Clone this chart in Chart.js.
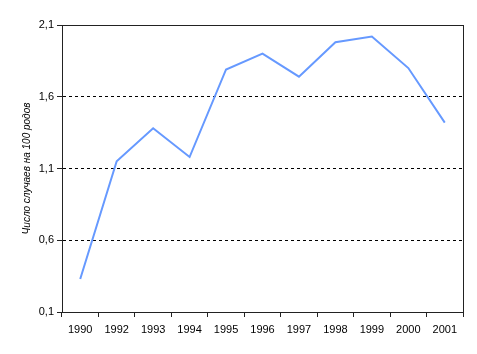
<!DOCTYPE html>
<html>
<head>
<meta charset="utf-8">
<script src="https://cdn.jsdelivr.net/npm/chart.js@4/dist/chart.umd.min.js"></script>
<style>
  html, body { margin: 0; padding: 0; background: #fff; }
  #wrap { width: 477px; height: 354px; }
</style>
</head>
<body>
<div id="wrap"><canvas id="chart" width="477" height="354"></canvas></div>
<script>
// DATA
const years = ["1990", "1992", "1993", "1994", "1995", "1996", "1997", "1998", "1999", "2000", "2001"];
const cases = [0.33, 1.15, 1.38, 1.18, 1.79, 1.90, 1.74, 1.98, 2.02, 1.80, 1.42];
const yTicks = [0.1, 0.6, 1.1, 1.6, 2.1];

// frame round the plot area
const frame = {
    id: "frame",
    afterDraw(chart) {
        let a = chart.chartArea;
        let ctx = chart.ctx;
        ctx.save();
        ctx.setLineDash([]);
        ctx.strokeStyle = "#222";
        ctx.lineWidth = 1;
        ctx.strokeRect(Math.round(a.left) + 0.5, Math.round(a.top) + 0.5,
            Math.round(a.right - a.left), Math.round(a.bottom - a.top));
        ctx.restore();
    }
};

new Chart(document.getElementById("chart"), {
    type: "line",
    data: {
        labels: years,
        datasets: [{
            data: cases,
            borderColor: "#6699ff",
            borderWidth: 2,
            pointRadius: 0,
            tension: 0,
            fill: false
        }]
    },
    options: {
        responsive: false,
        animation: false,
        layout: { padding: { left: 0, top: 25, right: 14, bottom: 0 } },
        plugins: { legend: { display: false }, tooltip: { enabled: false } },
        scales: {
            x: {
                offset: true,
                afterFit: s => { s.height = 42; },
                grid: { offset: true, drawOnChartArea: false, tickLength: 5, tickColor: "#222" },
                border: { color: "#222" },
                ticks: { color: "#000", font: { family: "Liberation Sans", size: 11 }, padding: 6, maxRotation: 0, autoSkip: false }
            },
            y: {
                min: 0.1,
                max: 2.1,
                afterFit: s => { s.width = 62; },
                afterBuildTicks: s => { s.ticks = yTicks.map(v => ({ value: v })); },
                grid: { color: "#000", tickLength: 5, tickColor: "#222", tickBorderDash: [] },
                border: { color: "#222", dash: [3, 3] },
                title: {
                    display: true,
                    text: "Число случаев на 100 родов",
                    color: "#000",
                    font: { family: "Liberation Sans", size: 10, style: "italic" },
                    padding: { top: 21, bottom: 0 }
                },
                ticks: {
                    color: "#000",
                    font: { family: "Liberation Sans", size: 11 },
                    padding: 3,
                    callback: v => v.toFixed(1).replace(".", ",")
                }
            }
        }
    },
    plugins: [frame]
});
</script>
</body>
</html>
